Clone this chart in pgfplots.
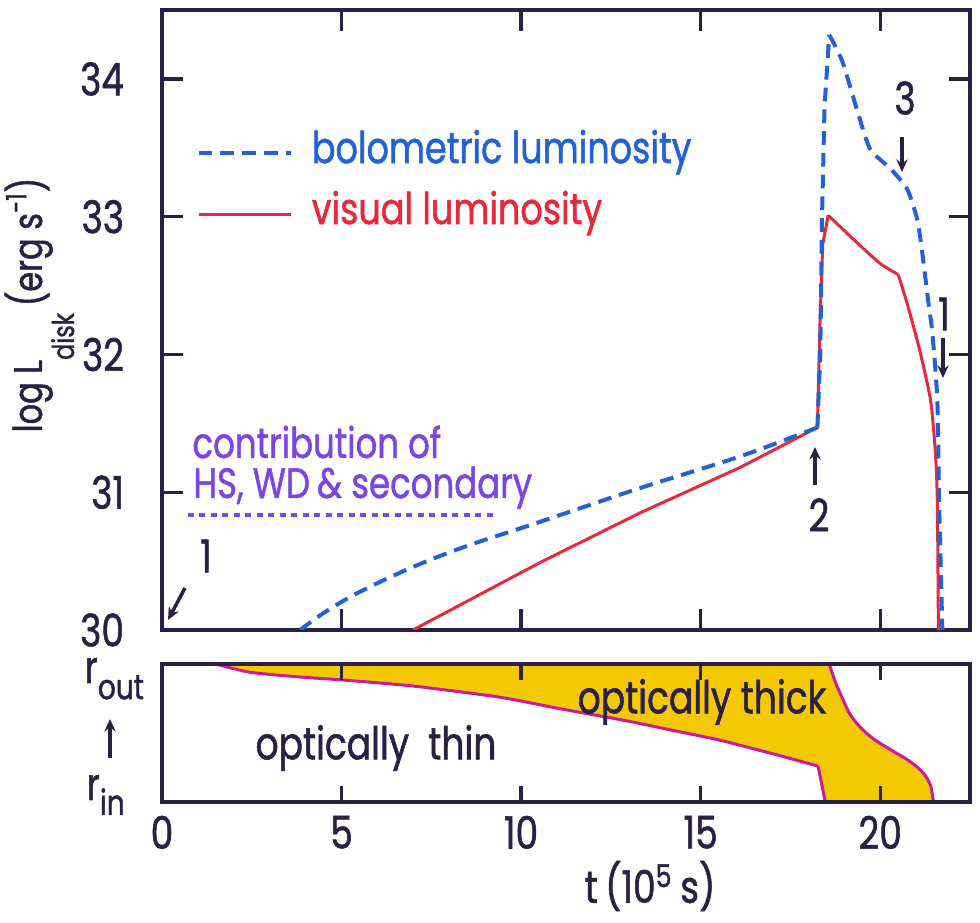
\documentclass[border=0pt]{standalone}
\usepackage{fontspec}
\setmainfont{Poppins}[FakeStretch=0.8, FakeBold=1.2]
\usepackage{pgfplots}
\pgfplotsset{compat=1.18}
\usetikzlibrary{arrows.meta}

\definecolor{ink}{HTML}{2A2042}
\definecolor{bolblue}{HTML}{2262D6}
\definecolor{visred}{HTML}{E8283C}
\definecolor{violet}{HTML}{7A46E4}
\definecolor{thickfill}{HTML}{F5C902}
\definecolor{edge}{HTML}{CC1A9E}

\newcommand{\lettering}{\fontsize{18}{18}\selectfont}

\begin{document}
\begin{tikzpicture}
\useasboundingbox (0,0) rectangle (392pt,-369.2pt);

\pgfplotsset{
  panel/.style={
    scale only axis, width=323.2pt,
    xmin=0, xmax=22.5,
    axis line style={ink, line width=1.4pt},
    xtick style={draw=ink, line width=1.3pt},
    ytick style={draw=ink, line width=1.3pt},
    tick align=inside,
    ticklabel style={font=\lettering, text=ink},
    /pgf/number format/assume math mode=true,
  },
  blueline/.style={bolblue, line width=1.6pt, dash pattern=on 5.5pt off 3.2pt},
  redline/.style={visred, line width=1.2pt},
}

% disk luminosity versus time
\begin{axis}[panel, at={(64.8pt,-252pt)}, anchor=south west, height=248pt,
  ymin=30, ymax=34.5, ytick={30,31,32,33,34},
  xtick={5,10,15,20}, xticklabels={},
  major tick length=8.5pt,
  yticklabel style={inner sep=1pt, xshift=-14pt},
  legend cell align=left,
  legend image code/.code={\draw[#1] (0pt,0pt) -- (37pt,0pt);},
  legend style={at={(axis cs:0.95,33.24)}, anchor=west, draw=none, fill=none,
    inner sep=0pt, row sep=8.4pt, font=\fontsize{17.5}{17.5}\selectfont,
    nodes={inner sep=0pt, text height=12pt, text depth=4pt},
    /tikz/every odd column/.append style={column sep=7.5pt}},
]
\addlegendimage{blueline}
\addlegendentry{\textcolor{bolblue}{bolometric luminosity}}
\addlegendimage{redline}
\addlegendentry{\textcolor{visred}{visual luminosity}}

% visual luminosity: slow rise, outburst, decline
\addplot[redline, forget plot] coordinates {
  (6.99,30.00) (10.53,30.49) (13.31,30.85) (16.10,31.18) (18.25,31.47)
  (18.33,32.30) (18.40,32.80) (18.55,33.01)
};
\addplot[redline, forget plot, smooth, tension=0.4] coordinates {
  (18.55,33.01) (19.36,32.81) (20.00,32.66) (20.50,32.58)
};
\addplot[redline, forget plot, smooth, tension=0.4] coordinates {
  (20.50,32.58) (20.75,32.37) (21.10,32.03) (21.40,31.67)
  (21.53,31.31) (21.59,30.94) (21.62,30.00)
};
% bolometric luminosity
\addplot[blueline, forget plot, smooth, tension=0.5] coordinates {
  (3.84,30.00) (4.48,30.12) (5.24,30.24) (6.16,30.36) (7.10,30.47)
  (8.02,30.565) (8.94,30.65) (9.89,30.73) (10.81,30.81)
  (13.31,31.03) (16.10,31.26) (18.25,31.47)
};
\addplot[blueline, forget plot] coordinates {
  (18.25,31.47) (18.33,32.00) (18.38,33.00) (18.45,33.80) (18.58,34.32)
};
\addplot[blueline, forget plot, smooth, tension=0.4] coordinates {
  (18.58,34.32) (18.94,34.13) (19.36,33.77) (19.72,33.49) (20.28,33.35)
  (20.75,33.20) (21.03,32.98) (21.17,32.74) (21.34,32.38) (21.45,32.16)
  (21.59,31.67) (21.64,30.94) (21.73,30.00)
};
% level of hot spot, white dwarf and secondary
\addplot[violet, line width=1.4pt, dash pattern=on 2.4pt off 2.2pt, forget plot] coordinates {
  (0.72,30.835) (9.28,30.835)
};
\end{axis}

% optically thin / thick parts of the disk
\begin{axis}[panel, at={(64.8pt,-320.8pt)}, anchor=south west, height=55.2pt,
  ymin=0, ymax=1, ytick=\empty,
  xtick={0,5,10,15,20}, major tick length=6.5pt,
  xticklabel style={yshift=-2pt},
  axis on top,
]
\addplot[fill=thickfill, draw=none, smooth, tension=0.4] coordinates {
  (1.50,1.00) (2.45,0.94) (3.84,0.906) (5.04,0.884) (7.00,0.84) (9.39,0.76)
  (11.00,0.68) (12.90,0.59) (14.20,0.52) (15.50,0.45) (17.00,0.35)
  (18.27,0.26)
} -- (axis cs:18.47,0) -- (axis cs:21.48,0) -- (axis cs:21.48,0.02)
  -- (axis cs:21.40,0.12) -- (axis cs:21.20,0.21) -- (axis cs:20.85,0.29)
  -- (axis cs:20.35,0.37) -- (axis cs:19.85,0.45) -- (axis cs:19.45,0.54)
  -- (axis cs:19.15,0.64) -- (axis cs:18.95,0.75) -- (axis cs:18.75,0.87)
  -- (axis cs:18.58,1.00) -- cycle;
\addplot[edge, line width=1.2pt, smooth, tension=0.4] coordinates {
  (1.50,1.00) (2.45,0.94) (3.84,0.906) (5.04,0.884) (7.00,0.84) (9.39,0.76)
  (11.00,0.68) (12.90,0.59) (14.20,0.52) (15.50,0.45) (17.00,0.35)
  (18.27,0.26)
};
\addplot[edge, line width=1.2pt] coordinates {(18.27,0.26) (18.47,0.00)};
\addplot[edge, line width=1.2pt, smooth, tension=0.5] coordinates {
  (18.58,1.00) (18.75,0.87) (18.95,0.75) (19.15,0.64) (19.45,0.54)
  (19.85,0.45) (20.35,0.37) (20.85,0.29) (21.20,0.21) (21.40,0.12)
  (21.48,0.00)
};
\end{axis}

% labels, annotations and inward tick marks
\begin{scope}[x=0.4pt, y=-0.4pt, every node/.style={text=ink, font=\lettering, inner sep=0pt}]
  \foreach \xt in {341.6,521.1,700.7,880.2}{
    \draw[ink, line width=1.3pt] (\xt,630) -- (\xt,609);
    \draw[ink, line width=1.3pt] (\xt,10) -- (\xt,31);
    \draw[ink, line width=1.3pt] (\xt,802) -- (\xt,786);
    \draw[ink, line width=1.3pt] (\xt,664) -- (\xt,680);
  }
  \foreach \yt in {492.2,354.4,216.7,78.9}{
    \draw[ink, line width=1.3pt] (162,\yt) -- (183,\yt);
    \draw[ink, line width=1.3pt] (970,\yt) -- (949,\yt);
  }

  \node[rotate=90, anchor=base] at (42,305)
    {\fontsize{16}{16}\selectfont log L\raisebox{-0.8em}{\fontsize{12}{12}\selectfont disk}\,(erg s\textsuperscript{-1})};
  \node at (650,886) {t\,(10\textsuperscript{5}\,s)};

  \node[anchor=base west] at (84,683) {\fontsize{18}{18}\selectfont r\raisebox{-6.5pt}{\fontsize{14}{14}\selectfont out}};
  \node[anchor=base west] at (86,800) {\fontsize{18}{18}\selectfont r\raisebox{-6pt}{\fontsize{14}{14}\selectfont in}};
  \draw[ink, line width=1.4pt, -{Stealth[length=5pt,width=4.5pt]}] (110,758) -- (110,719);

  \node at (376,748) {optically\ \ thin};
  \node at (702,702) {optically\ thick};

  \node[anchor=base west, text=violet, font=\fontsize{17}{17}\selectfont] at (192,458) {contribution of};
  \node[anchor=base west, text=violet, font=\fontsize{17}{17}\selectfont] at (193,498) {HS, WD\,\& secondary};

  \node at (206,556) {1};
  \draw[ink, line width=1.4pt, -{Stealth[length=5pt,width=4.5pt]}] (185,588) -- (168,620);
  \node at (819,515) {2};
  \draw[ink, line width=1.4pt, -{Stealth[length=5pt,width=4.5pt]}] (815,485) -- (815,447);
  \node at (905,98) {3};
  \draw[ink, line width=1.4pt, -{Stealth[length=5pt,width=4.5pt]}] (902,137) -- (902,172);
  \node at (944,314) {1};
  \draw[ink, line width=1.4pt, -{Stealth[length=5pt,width=4.5pt]}] (943,338) -- (943,378);
\end{scope}
\end{tikzpicture}
\end{document}
